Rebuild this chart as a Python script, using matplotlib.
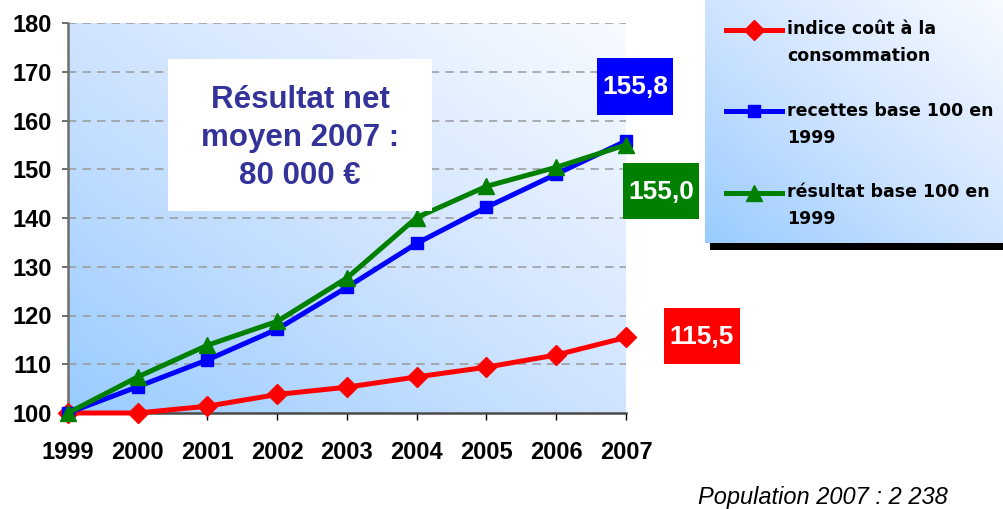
import numpy as np
import matplotlib
matplotlib.use("Agg")
import matplotlib.pyplot as plt
from matplotlib.patches import Rectangle
from matplotlib.colors import LinearSegmentedColormap
from matplotlib.lines import Line2D
from matplotlib.legend_handler import HandlerLine2D

# ---------------- data ----------------
years = ["1999", "2000", "2001", "2002", "2003", "2004", "2005", "2006", "2007"]
indice_cout = [100.0, 100.0, 101.4, 103.8, 105.3, 107.4, 109.4, 111.9, 115.5]
recettes = [100.0, 105.4, 110.9, 117.2, 125.8, 134.8, 142.2, 149.0, 155.8]
resultat = [100.0, 107.4, 113.9, 118.8, 127.7, 140.1, 146.5, 150.4, 155.0]
series_labels = ["indice coût à la\nconsommation",
                 "recettes base 100 en\n1999",
                 "résultat base 100 en\n1999"]
yticks = [100, 110, 120, 130, 140, 150, 160, 170, 180]
box_title = "Résultat net\nmoyen 2007 :\n80 000 €"
footer = "Population 2007 : 2 238"

# ---------------- figure ----------------
W, H = 1004, 509
fig = plt.figure(figsize=(W / 100, H / 100), dpi=100)
fig.patch.set_facecolor("white")


def fx(px):
    return px / W


def fy(py):
    return 1 - py / H


grad_cmap = LinearSegmentedColormap.from_list(
    "bg", [(0.0, "#99CCFF"), (0.5, "#D0E4FF"), (1.0, "#F8FBFF")])
gx, gy = np.meshgrid(np.linspace(0, 1, 300), np.linspace(0, 1, 300))
grad = (gx + gy) / 2.0

# main axes
ax = fig.add_axes([fx(68), fy(413), fx(626 - 68), (413 - 23) / H])
x = np.arange(len(years))
ax.set_xlim(0, len(years) - 1)
ax.set_ylim(100, 180)
ax.imshow(grad, cmap=grad_cmap, origin="lower", aspect="auto",
          extent=(0, 1, 0, 1), transform=ax.transAxes, zorder=0,
          interpolation="bilinear")

for yv in yticks[1:]:
    ax.axhline(yv, color="#999999", lw=1.1, dashes=(5.5, 4), zorder=1)

ax.plot(x, indice_cout, color="#FF0000", lw=3.6, marker="D", ms=10,
        label=series_labels[0], clip_on=False, zorder=3)
ax.plot(x, recettes, color="#0000FF", lw=3.6, marker="s", ms=9,
        label=series_labels[1], clip_on=False, zorder=4)
ax.plot(x, resultat, color="#008000", lw=3.6, marker="^", ms=11,
        label=series_labels[2], clip_on=False, zorder=5)

ax.set_xticks(x)
ax.set_xticklabels(years)
ax.set_yticks(yticks)
ax.set_yticklabels([str(v) for v in yticks])
for lab in ax.get_xticklabels() + ax.get_yticklabels():
    lab.set_fontfamily("Liberation Sans")
    lab.set_fontweight("bold")
    lab.set_fontsize(17)
ax.tick_params(axis="x", direction="out", length=5, width=1, color="black", pad=15)
ax.tick_params(axis="y", direction="out", length=4.5, width=1.2, color="#555555", pad=7)
for s in ["top", "right"]:
    ax.spines[s].set_visible(False)
ax.spines["left"].set_color("#6E6E6E")
ax.spines["left"].set_linewidth(1.8)
ax.spines["bottom"].set_color("#4A4A4A")
ax.spines["bottom"].set_linewidth(1.8)

# white title box
fig.add_artist(Rectangle((fx(168), fy(211)), fx(432 - 168), (211 - 59) / H,
                         transform=fig.transFigure, facecolor="white",
                         edgecolor="none", zorder=2))
fig.text(fx(300), fy(138), box_title, ha="center", va="center",
         color="#333399", fontsize=22.5, fontweight="bold",
         family="Liberation Sans", linespacing=1.36, zorder=3)

# value boxes
def value_box(x0, y0, x1, y1, color, value):
    fig.add_artist(Rectangle((fx(x0), fy(y1)), fx(x1 - x0), (y1 - y0) / H,
                             transform=fig.transFigure, facecolor=color,
                             edgecolor="none", zorder=6))
    fig.text(fx((x0 + x1) / 2), fy((y0 + y1) / 2 + 1),
             f"{value:.1f}".replace(".", ","), ha="center", va="center",
             color="white", fontsize=19, fontweight="bold",
             family="Liberation Sans", zorder=7)


value_box(597, 58, 673, 115, "#0000FF", recettes[-1])
value_box(623, 163, 699, 219, "#008000", resultat[-1])
value_box(664, 308, 740, 364, "#FF0000", indice_cout[-1])

# legend panel with gradient and shadow
fig.add_artist(Rectangle((fx(710), fy(250)), fx(1004 - 710), 7 / H,
                         transform=fig.transFigure, facecolor="black",
                         edgecolor="none", zorder=1))
lax = fig.add_axes([fx(705), fy(243), fx(1004 - 705), 243 / H])
lax.imshow(grad, cmap=grad_cmap, origin="lower", aspect="auto",
           extent=(0, 1, 0, 1), interpolation="bilinear")
lax.set_axis_off()

LEG_FS = 12.5
LEG_LS = 1.62
SHIFT = 0.5 * LEG_FS * LEG_LS  # points: raise key to first text line


class FirstLineHandler(HandlerLine2D):
    def create_artists(self, legend, orig_handle, xdescent, ydescent,
                       width, height, fontsize, trans):
        arts = super().create_artists(legend, orig_handle, xdescent, ydescent,
                                      width, height, fontsize, trans)
        for a in arts:
            a.set_ydata(np.asarray(a.get_ydata(), dtype=float) + SHIFT)
        return arts


handles, labels = ax.get_legend_handles_labels()
leg = fig.legend(handles, labels, loc="upper left",
                 bbox_to_anchor=(fx(726), fy(20.5)),
                 frameon=False, borderpad=0, borderaxespad=0,
                 handlelength=3.23, handletextpad=0.29, labelspacing=2.12,
                 handler_map={Line2D: FirstLineHandler()},
                 prop=dict(family="DejaVu Sans", weight="bold", size=LEG_FS))
for t in leg.get_texts():
    t.set_linespacing(LEG_LS)

# footer
fig.text(fx(698), fy(504), footer, ha="left", va="baseline",
         fontsize=17, style="italic", family="Liberation Sans", color="black")

fig.savefig("out.png", dpi=100)
